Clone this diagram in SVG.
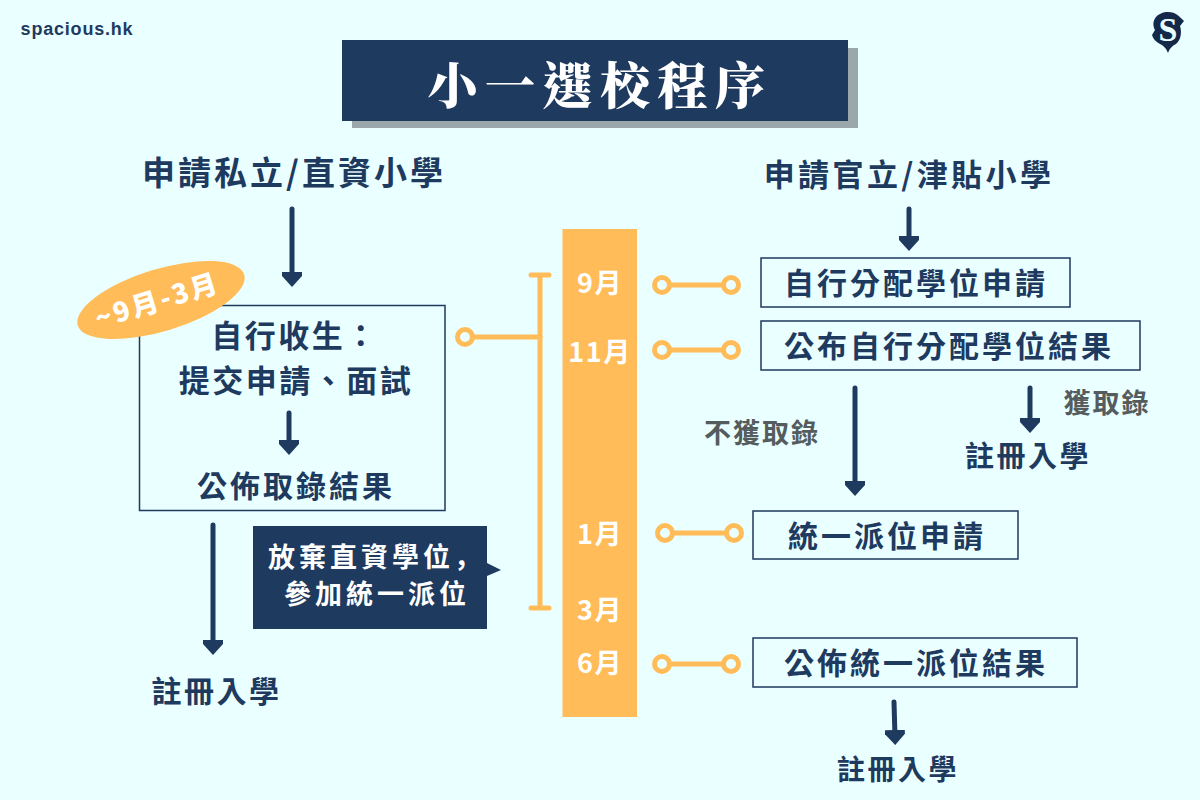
<svg xmlns="http://www.w3.org/2000/svg" width="1200" height="800" viewBox="0 0 1200 800">
<style>
text{font-family:"Noto Sans CJK TC","Noto Sans CJK SC",sans-serif;font-weight:700;fill:#1e3a5f;text-anchor:middle}
.t32{font-size:33px;letter-spacing:3px}
.t30{font-size:31px;letter-spacing:2.500px}
.h2{font-size:31px;letter-spacing:3.400px}
.t29{font-size:30px;letter-spacing:3px}
.g{font-size:27px;letter-spacing:2px;fill:#555c5e}
.m{font-size:27px;fill:#fff;letter-spacing:1.500px}
.gu{font-size:27px;fill:#fff;letter-spacing:4px;text-anchor:start}
.box{fill:none;stroke:#1e3a5f;stroke-width:1.500}
.a{stroke:#1e3a5f;stroke-width:5;fill:none;stroke-linecap:round}
.y{stroke:#ffbc58;stroke-width:5;fill:none;stroke-linecap:round}
.c{stroke:#ffbc58;stroke-width:5;fill:#eaffff}
</style>
<defs><marker id="ah" viewBox="0 0 15 20" refX="7" refY="10" markerWidth="15" markerHeight="20" markerUnits="userSpaceOnUse" orient="auto"><path d="M0 0H4L15 10L4 20H0Z" fill="#1e3a5f"/></marker></defs>
<rect width="1200" height="800" fill="#eaffff"/>
<text x="77" y="35" style="font-family:'Liberation Sans',sans-serif;font-size:18px;letter-spacing:.8px">spacious.hk</text>
<g id="logo"><path d="M1168 12C1176 12 1180 17 1184 21L1180 26C1182 32 1181 40 1176 44C1172 46 1170 48 1168 53C1166 48 1164 46 1160 44C1156 42 1153 39 1152 35L1155 30C1150 20 1158 12 1168 12Z" fill="#14294a"/><text x="1168" y="41" style="font-family:'Liberation Serif',serif;font-size:34px;fill:#eaffff;font-weight:700">S</text></g>
<g id="title"><rect x="352" y="48" width="506" height="80" fill="#9aa7ab"/><rect x="342" y="40" width="506" height="81" fill="#1e3a5f"/><text x="600" y="104" style="font-family:'Noto Serif CJK TC','Noto Sans CJK TC',serif;font-size:50px;letter-spacing:7.500px;font-weight:900;fill:#fff">小一選校程序</text></g>
<g id="private-head"><text x="294" y="185" class="t32">申請私立/直資小學</text></g>
<g id="public-head"><text x="909" y="186" class="h2">申請官立/津貼小學</text></g>
<g id="timeline"><rect x="562.500" y="229" width="74.500" height="488" fill="#ffbc58"/>
<text x="600" y="293" class="m">9月</text><text x="600" y="362" class="m">11月</text><text x="600" y="544" class="m">1月</text><text x="600" y="620" class="m">3月</text><text x="600" y="673" class="m">6月</text></g>
<g id="self-box"><rect x="139.500" y="305.500" width="305.500" height="205" class="box"/>
<text x="295" y="347" class="t30">自行收生：</text><text x="296" y="392" class="t30">提交申請、面試</text><text x="296" y="497" class="t29">公佈取錄結果</text></g>
<g id="badge"><ellipse cx="161" cy="300" rx="87" ry="31" fill="#ffbc58" transform="rotate(-17 161 300)"/><text x="160" y="310" transform="rotate(-17 160 310)" style="font-size:27px;fill:#fff;font-weight:900;letter-spacing:2.500px">~9月-3月</text></g>
<g id="reg-left"><text x="216.500" y="702" style="font-size:30px;letter-spacing:2.500px">註冊入學</text></g>
<g id="giveup"><path d="M253 526H487V563L501 570L487 576V629H253Z" fill="#1e3a5f"/><text x="268" y="567" class="gu">放棄直資學位<tspan style="font-family:'Noto Sans CJK SC',sans-serif">，</tspan></text><text x="284" y="604" class="gu">參加統一派位</text></g>
<g id="n1"><rect x="761" y="258" width="309" height="49" class="box"/><text x="916" y="294" class="t29">自行分配學位申請</text></g>
<g id="n2"><rect x="761" y="321" width="379" height="49" class="box"/><text x="949" y="357" class="t29">公布自行分配學位結果</text></g>
<g id="n3"><rect x="753" y="511" width="265" height="48" class="box"/><text x="887" y="547" class="t29">統一派位申請</text></g>
<g id="n4"><rect x="753" y="638" width="324" height="49" class="box"/><text x="916" y="674" class="t29">公佈統一派位結果</text></g>
<g id="labels"><text x="762" y="443" class="g">不獲取錄</text><text x="1107" y="413" class="g">獲取錄</text><text x="1028" y="467" style="font-size:29px;letter-spacing:2.500px">註冊入學</text><text x="898" y="780" style="font-size:28px;letter-spacing:2.500px">註冊入學</text></g>
<g id="connectors">
<path class="a" d="M292 209V279" marker-end="url(#ah)"/>
<path class="a" d="M289 413V447" marker-end="url(#ah)"/>
<path class="a" d="M213 525V647" marker-end="url(#ah)"/>
<path class="a" d="M909 209V243" marker-end="url(#ah)"/>
<path class="a" d="M855 388V488" marker-end="url(#ah)"/>
<path class="a" d="M1030 388V425" marker-end="url(#ah)"/>
<path class="a" d="M894 702L895 737" marker-end="url(#ah)"/>
<path class="y" d="M531 275H549M540 275V608M531 608H549"/>
<path class="y" d="M472 337H540M670 285H722M670 350H722M673 533H725M670 664H722"/>
<circle class="c" cx="465" cy="337" r="7.500"/>
<circle class="c" cx="662" cy="285" r="7.500"/><circle class="c" cx="731" cy="285" r="7.500"/>
<circle class="c" cx="662" cy="350" r="7.500"/><circle class="c" cx="731" cy="350" r="7.500"/>
<circle class="c" cx="665" cy="533" r="7.500"/><circle class="c" cx="734" cy="533" r="7.500"/>
<circle class="c" cx="662" cy="664" r="7.500"/><circle class="c" cx="731" cy="664" r="7.500"/>
</g>
</svg>
